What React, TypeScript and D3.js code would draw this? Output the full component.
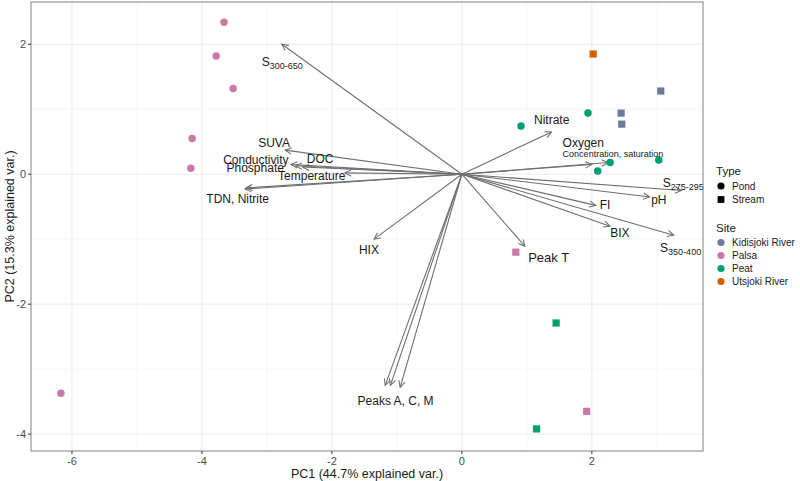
import React from 'react';
import * as d3 from 'd3';

// sample scores (PC1, PC2)
const siteNames = ['Kidisjoki River', 'Palsa', 'Peat', 'Utsjoki River'];
const siteColors = ['#6b7b99', '#cc79a7', '#009e73', '#d55e00'];
const typeNames = ['Pond', 'Stream'];

const samples = [
  { pc1: -3.66, pc2: 2.34, site: 'Palsa', type: 'Pond' },
  { pc1: -3.78, pc2: 1.82, site: 'Palsa', type: 'Pond' },
  { pc1: -3.52, pc2: 1.32, site: 'Palsa', type: 'Pond' },
  { pc1: -4.15, pc2: 0.55, site: 'Palsa', type: 'Pond' },
  { pc1: -4.17, pc2: 0.09, site: 'Palsa', type: 'Pond' },
  { pc1: -6.17, pc2: -3.37, site: 'Palsa', type: 'Pond' },
  { pc1: 0.83, pc2: -1.2, site: 'Palsa', type: 'Stream' },
  { pc1: 1.92, pc2: -3.65, site: 'Palsa', type: 'Stream' },
  { pc1: 0.91, pc2: 0.74, site: 'Peat', type: 'Pond' },
  { pc1: 1.94, pc2: 0.94, site: 'Peat', type: 'Pond' },
  { pc1: 2.28, pc2: 0.18, site: 'Peat', type: 'Pond' },
  { pc1: 2.09, pc2: 0.05, site: 'Peat', type: 'Pond' },
  { pc1: 3.03, pc2: 0.22, site: 'Peat', type: 'Pond' },
  { pc1: 1.45, pc2: -2.29, site: 'Peat', type: 'Stream' },
  { pc1: 1.15, pc2: -3.92, site: 'Peat', type: 'Stream' },
  { pc1: 3.06, pc2: 1.28, site: 'Kidisjoki River', type: 'Stream' },
  { pc1: 2.45, pc2: 0.94, site: 'Kidisjoki River', type: 'Stream' },
  { pc1: 2.46, pc2: 0.77, site: 'Kidisjoki River', type: 'Stream' },
  { pc1: 2.02, pc2: 1.85, site: 'Utsjoki River', type: 'Stream' },
];

// variable loadings (arrow tips)
const loadings = [
  { name: 'S300-650', x: -2.77, y: 2.0 },
  { name: 'SUVA', x: -2.72, y: 0.37 },
  { name: 'Conductivity', x: -2.63, y: 0.15 },
  { name: 'Phosphate', x: -2.56, y: 0.13 },
  { name: 'DOC', x: -2.45, y: 0.11 },
  { name: 'Temperature', x: -1.8, y: 0.02 },
  { name: 'TDN', x: -3.34, y: -0.23 },
  { name: 'Nitrite', x: -3.32, y: -0.21 },
  { name: 'HIX', x: -1.35, y: -1.0 },
  { name: 'Peak T', x: 0.97, y: -1.11 },
  { name: 'Peak A', x: -1.18, y: -3.25 },
  { name: 'Peak C', x: -1.1, y: -3.25 },
  { name: 'Peak M', x: -0.95, y: -3.28 },
  { name: 'Nitrate', x: 1.38, y: 0.65 },
  { name: 'Oxygen conc', x: 2.0, y: 0.15 },
  { name: 'Oxygen sat', x: 2.25, y: 0.18 },
  { name: 'S275-295', x: 3.38, y: -0.25 },
  { name: 'pH', x: 2.89, y: -0.35 },
  { name: 'FI', x: 2.06, y: -0.48 },
  { name: 'BIX', x: 2.28, y: -0.8 },
  { name: 'S350-400', x: 3.26, y: -0.94 },
];

// label positions (data units)
const varLabels = [
  { text: 'S', sub: '300-650', x: -3.08, y: 1.72, anchor: 'start', size: 12 },
  { text: 'SUVA', x: -2.89, y: 0.48, anchor: 'middle', size: 12 },
  { text: 'Conductivity', x: -3.17, y: 0.22, anchor: 'middle', size: 12 },
  { text: 'DOC', x: -2.18, y: 0.23, anchor: 'middle', size: 12 },
  { text: 'Phosphate', x: -3.18, y: 0.09, anchor: 'middle', size: 12 },
  { text: 'Temperature', x: -2.31, y: -0.03, anchor: 'middle', size: 12 },
  { text: 'TDN, Nitrite', x: -3.45, y: -0.38, anchor: 'middle', size: 12 },
  { text: 'HIX', x: -1.43, y: -1.17, anchor: 'middle', size: 12 },
  { text: 'Peak T', x: 1.02, y: -1.28, anchor: 'start', size: 13 },
  { text: 'Peaks A, C, M', x: -1.02, y: -3.49, anchor: 'middle', size: 12 },
  { text: 'Nitrate', x: 1.11, y: 0.83, anchor: 'start', size: 12 },
  { text: 'Oxygen', x: 1.55, y: 0.48, anchor: 'start', size: 12 },
  { text: 'Concentration, saturation', x: 1.55, y: 0.31, anchor: 'start', size: 9 },
  { text: 'S', sub: '275-295', x: 3.09, y: -0.14, anchor: 'start', size: 12 },
  { text: 'pH', x: 3.03, y: -0.4, anchor: 'middle', size: 12 },
  { text: 'FI', x: 2.12, y: -0.48, anchor: 'start', size: 12 },
  { text: 'BIX', x: 2.43, y: -0.91, anchor: 'middle', size: 12 },
  { text: 'S', sub: '350-400', x: 3.05, y: -1.14, anchor: 'start', size: 12 },
];

const xTicks = [-6, -4, -2, 0, 2];
const yTicks = [-4, -2, 0, 2];
const xMinor = [-5, -3, -1, 1, 3];
const yMinor = [-3, -1, 1];

const W = 800;
const H = 481;
const font = '"Liberation Sans", Arial, sans-serif';

export default function App() {
  const x = d3.scaleLinear().domain([-6.63, 3.71]).range([31, 703]);
  const y = d3.scaleLinear().domain([-4.26, 2.65]).range([451, 2]);
  const color = d3.scaleOrdinal<string, string>().domain(siteNames).range(siteColors);
  const sym = d3.scaleOrdinal<string, d3.SymbolType>().domain(typeNames).range([d3.symbolCircle, d3.symbolSquare]);
  const symSize = (t: string) => (t === 'Pond' ? 44 : 52);
  const arrowCol = '#6e6e6e';

  return (
    <div style={{ position: 'absolute', left: 0, top: 0 }}>
      <svg width={W} height={H} style={{ display: 'block', background: '#fff', fontFamily: font }}>
        <defs>
          <marker id="ah" viewBox="0 0 10 10" refX="9" refY="5" markerWidth="8" markerHeight="8" orient="auto" markerUnits="userSpaceOnUse">
            <path d="M1,1 L9,5 L1,9" fill="none" stroke={arrowCol} strokeWidth={1.3} />
          </marker>
        </defs>
        {/* grid */}
        {xMinor.map(v => <line key={'xm' + v} x1={x(v)} x2={x(v)} y1={2} y2={451} stroke="#f2f2f2" strokeWidth={0.6} />)}
        {yMinor.map(v => <line key={'ym' + v} x1={31} x2={703} y1={y(v)} y2={y(v)} stroke="#f2f2f2" strokeWidth={0.6} />)}
        {xTicks.map(v => <line key={'xg' + v} x1={x(v)} x2={x(v)} y1={2} y2={451} stroke="#ebebeb" strokeWidth={1} />)}
        {yTicks.map(v => <line key={'yg' + v} x1={31} x2={703} y1={y(v)} y2={y(v)} stroke="#ebebeb" strokeWidth={1} />)}

        {/* arrows */}
        {loadings.map(d => (
          <line key={d.name} x1={x(0)} y1={y(0)} x2={x(d.x)} y2={y(d.y)} stroke={arrowCol} strokeWidth={1.1} markerEnd="url(#ah)" />
        ))}

        {/* points */}
        {samples.map((d, i) => (
          <path key={i} d={d3.symbol(sym(d.type), symSize(d.type))() || ''}
            transform={`translate(${x(d.pc1)},${y(d.pc2)})`} fill={color(d.site)} />
        ))}

        {/* variable labels */}
        {varLabels.map((d, i) => (
          <text key={i} x={x(d.x)} y={y(d.y)} textAnchor={d.anchor} dominantBaseline="central" fontSize={d.size} fill="#1a1a1a">
            {d.text}
            {d.sub && <tspan fontSize={9} dy={4}>{d.sub}</tspan>}
          </text>
        ))}

        {/* panel border */}
        <rect x={31} y={2} width={672} height={449} fill="none" stroke="#8c8c8c" strokeWidth={1.1} />

        {/* axes ticks */}
        {xTicks.map(v => (
          <g key={'xt' + v}>
            <line x1={x(v)} x2={x(v)} y1={451} y2={454} stroke="#333" />
            <text x={x(v)} y={461} textAnchor="middle" dominantBaseline="central" fontSize={11} fill="#4d4d4d">{v}</text>
          </g>
        ))}
        {yTicks.map(v => (
          <g key={'yt' + v}>
            <line x1={28} x2={31} y1={y(v)} y2={y(v)} stroke="#333" />
            <text x={26} y={y(v)} textAnchor="end" dominantBaseline="central" fontSize={11} fill="#4d4d4d">{v}</text>
          </g>
        ))}
        <text x={367} y={474} textAnchor="middle" dominantBaseline="central" fontSize={12.5} fill="#1a1a1a">PC1 (44.7% explained var.)</text>
        <text transform={`translate(10,${(2 + 451) / 2}) rotate(-90)`} textAnchor="middle" dominantBaseline="central" fontSize={12.5} fill="#1a1a1a">PC2 (15.3% explained var.)</text>

        {/* legend */}
        <text x={716} y={171} dominantBaseline="central" fontSize={11.5} fill="#1a1a1a">Type</text>
        {typeNames.map((t, i) => (
          <g key={t} transform={`translate(0,${186 + i * 13.5})`}>
            <path d={d3.symbol(sym(t), t === 'Pond' ? 40 : 46)() || ''} transform="translate(721,0)" fill="#000" />
            <text x={732} y={0} dominantBaseline="central" fontSize={10} fill="#1a1a1a">{t}</text>
          </g>
        ))}
        <text x={716} y={228} dominantBaseline="central" fontSize={11.5} fill="#1a1a1a">Site</text>
        {siteNames.map((s, i) => (
          <g key={s} transform={`translate(0,${242.5 + i * 13})`}>
            <circle cx={721} cy={0} r={3.6} fill={color(s)} />
            <text x={732} y={0} dominantBaseline="central" fontSize={10} fill="#1a1a1a">{s}</text>
          </g>
        ))}
      </svg>
    </div>
  );
}
